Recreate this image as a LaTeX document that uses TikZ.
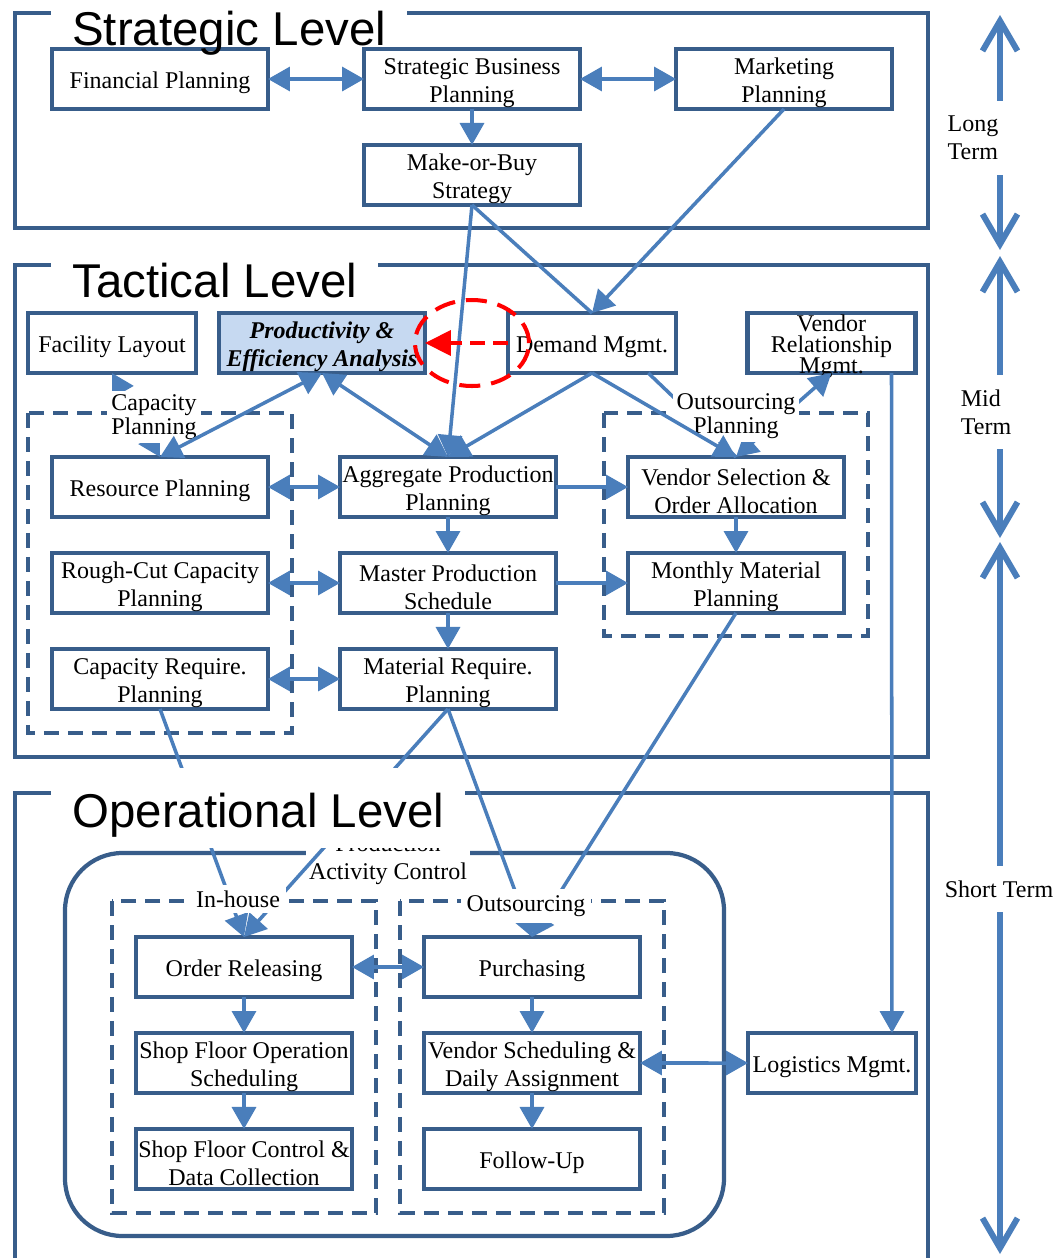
\documentclass[tikz,border=0pt]{standalone}
\usepackage{fontspec}
\setmainfont{Liberation Serif}
\newfontfamily\titlefont{Liberation Sans}
\usepackage{xcolor}
\usepackage{tikz}
\usetikzlibrary{arrows.meta, positioning, calc}

\definecolor{frameblue}{RGB}{56,93,138}
\definecolor{linkblue}{RGB}{74,126,187}
\definecolor{focusfill}{RGB}{198,217,241}
\newcommand{\bodyfont}{\fontsize{13.66pt}{15.94pt}\selectfont}
\newcommand{\tightfont}{\fontsize{13.66pt}{11.95pt}\selectfont}
\newcommand{\headfont}{\titlefont\fontsize{27pt}{30pt}\selectfont}
\newcommand{\lift}{\rule{0pt}{14pt}}

\begin{document}
\begin{tikzpicture}[
        x=0.02cm, y=-0.02cm,
        procbox/.style={
            rectangle,
            draw=frameblue,
            line width=2.8pt,
            fill=white,
            minimum width=4.32cm,
            minimum height=1.2cm,
            inner sep=0pt,
            outer sep=0pt,
            align=center,
            font=\bodyfont,
            execute at begin node={\lift}
        },
        smallbox/.style={procbox, minimum width=3.36cm},
        focusbox/.style={procbox, minimum width=4.12cm, fill=focusfill, font=\bodyfont\bfseries\itshape},
        grpbox/.style={draw=frameblue, line width=2.2pt, dash pattern=on 0.3cm off 0.18cm},
        grplbl/.style={fill=white, inner sep=0.08cm, align=center, font=\tightfont},
        sublbl/.style={fill=white, inner sep=0.12cm, font=\bodyfont},
        levelframe/.style={draw=frameblue, line width=2.8pt},
        leveltitle/.style={fill=white, anchor=base west, inner xsep=0.42cm, inner ysep=0pt, text height=0.8cm, text depth=0pt, font=\headfont},
        link/.style={draw=linkblue, line width=2pt, -{Triangle[length=0.44cm,width=0.48cm]}},
        duallink/.style={draw=linkblue, line width=2pt, {Triangle[length=0.44cm,width=0.48cm]}-{Triangle[length=0.44cm,width=0.48cm]}},
        plainlink/.style={draw=linkblue, line width=2pt},
        termarrow/.style={draw=linkblue, line width=3.4pt, {Straight Barb[length=0.6cm,width=0.7cm]}-{Straight Barb[length=0.6cm,width=0.7cm]}},
        termlbl/.style={fill=white, inner xsep=0.16cm, inner ysep=0.3cm, align=left, font=\bodyfont},
        redring/.style={draw=red, line width=2.3pt, dash pattern=on 0.42cm off 0.22cm},
        redlink/.style={draw=red, line width=2.3pt, dash pattern=on 0.3cm off 0.16cm, -{Triangle[length=0.52cm,width=0.5cm]}}
    ]
        \useasboundingbox (0,0) rectangle (1059,1258);
        \clip (0,0) rectangle (1059,1258);

        \draw[levelframe] (15,13) rectangle (928,228);
        \draw[levelframe] (15,265) rectangle (928,757);
        \draw[levelframe] (15,793) rectangle (928,1290);

        \draw[grpbox] (28,413) rectangle (292,733);
        \draw[grpbox] (604,413) rectangle (868,636);
        \draw[levelframe, line width=2.4pt, rounded corners=1.15cm] (65,853) rectangle (724,1236);
        \draw[grpbox] (112,901) rectangle (376,1213);
        \draw[grpbox] (400,901) rectangle (664,1213);
        \node[fill=white, inner sep=0.06cm, align=center, font=\bodyfont] (paclbl) at (388,860) {Production\\Activity Control};

        \node[procbox] (fin) at (160,79) {Financial Planning};
        \node[procbox] (sbp) at (472,79) {\lift Strategic Business\\Planning};
        \node[procbox] (mkt) at (784,79) {\lift Marketing\\Planning};
        \node[procbox, below=0.72cm of sbp] (mob) {\lift Make-or-Buy\\Strategy};

        \node[smallbox] (fac) at (112,343) {Facility Layout};
        \node[focusbox] (prod) at (322,343) {\lift Productivity \&\\Efficiency Analysis};
        \node[smallbox] (dem) at (592,343) {Demand Mgmt.};
        \node[smallbox, inner ysep=-0.15cm, font=\tightfont] (vrm) at (831.5,343) {\lift Vendor\\Relationship\\Mgmt.};

        \node[procbox] (res) at (160,487) {Resource Planning};
        \node[procbox, below=0.72cm of res] (rcc) {\lift Rough-Cut Capacity\\Planning};
        \node[procbox, below=0.72cm of rcc] (crp) {\lift Capacity Require.\\Planning};
        \node[procbox] (app) at (448,487) {\lift Aggregate Production\\Planning};
        \node[procbox, below=0.72cm of app] (mps) {\lift Master Production\\Schedule};
        \node[procbox, below=0.72cm of mps] (mrp) {\lift Material Require.\\Planning};
        \node[procbox] (sel) at (736,487) {\lift Vendor Selection \&\\Order Allocation};
        \node[procbox, below=0.72cm of sel] (mmp) {\lift Monthly Material\\Planning};

        \node[procbox] (ord) at (244,967) {Order Releasing};
        \node[procbox, below=0.72cm of ord] (sfo) {\lift Shop Floor Operation\\Scheduling};
        \node[procbox, below=0.72cm of sfo] (sfc) {\lift Shop Floor Control \&\\Data Collection};
        \node[procbox] (pur) at (532,967) {Purchasing};
        \node[procbox, below=0.72cm of pur] (vsd) {\lift Vendor Scheduling \&\\Daily Assignment};
        \node[procbox, below=0.72cm of vsd] (fol) {Follow-Up};
        \node[smallbox] (log) at (832,1063) {Logistics Mgmt.};

        \draw[duallink] (fin) -- (sbp);
        \draw[duallink] (sbp) -- (mkt);
        \draw[link] (sbp) -- (mob);
        \draw[link] (mkt.south) -- (dem.north);
        \draw[plainlink] (mob.south) -- (dem.north);
        \draw[link] (mob.south) -- (app.north);
        \draw[link] (dem.south) -- (app.north);
        \draw[duallink] (prod.south) -- (app.north);
        \draw[duallink] (fac.south) -- (res.north);
        \draw[duallink] (vrm.south) -- (sel.north);
        \draw[plainlink] ($(dem.south)!0.67!(dem.south east)$) -- (sel.north);
        \draw[duallink] (res) -- (app);
        \draw[duallink] (rcc) -- (mps);
        \draw[duallink] (crp) -- (mrp);
        \draw[link] (app) -- (sel);
        \draw[link] (mps) -- (mmp);
        \draw[link] (app) -- (mps);
        \draw[link] (mps) -- (mrp);
        \draw[link] (sel) -- (mmp);
        \draw[link] (crp.south) -- (ord.north);
        \draw[link] (mrp.south) -- (ord.north);
        \draw[link] (mrp.south) -- (pur.north);
        \draw[link] (mmp.south) -- (pur.north);
        \draw[link] ([xshift=-0.48cm]vrm.south east) -- ([xshift=-0.48cm]log.north east);
        \draw[duallink] (ord) -- (pur);
        \draw[link] (ord) -- (sfo);
        \draw[link] (sfo) -- (sfc);
        \draw[link] (pur) -- (vsd);
        \draw[link] (vsd) -- (fol);
        \draw[duallink] (vsd) -- (log);

        \node[grplbl] (caplbl) at (154,417) {Capacity\\Planning};
        \node[grplbl] (outlbl) at (736,416) {Outsourcing\\Planning};
        \node[sublbl] (inlbl) at (238,899) {In-house};
        \node[sublbl] (outslbl) at (526,906) {Outsourcing};

        \draw[link] (dem.south) -- (sel.north);
        \draw[duallink] (prod.south) -- (res.north);

        \node[leveltitle] (strattitle) at (51,45) {Strategic Level};
        \node[leveltitle] (tacttitle) at (51,297) {Tactical Level};
        \node[leveltitle, text height=1.18cm, text depth=0.42cm] (opertitle) at (51,827) {Operational Level};

        \coordinate (longtop) at (1000,15);
        \coordinate (longbot) at (1000,250);
        \coordinate (midtop) at (1000,256);
        \coordinate (midbot) at (1000,538);
        \coordinate (shorttop) at (1000,542);
        \coordinate (shortbot) at (1000,1254);
        \draw[termarrow] (longtop) -- (longbot);
        \draw[termarrow] (midtop) -- (midbot);
        \draw[termarrow] (shorttop) -- (shortbot);
        \node[termlbl] (longlbl) at (973,138) {Long\\Term};
        \node[termlbl] (midlbl) at (986,412) {Mid\\Term};
        \node[termlbl] (shortlbl) at (999,889) {Short Term};

        \draw[redring] (472,343) ellipse [x radius=1.14cm, y radius=0.86cm];
        \draw[redlink] (dem.west) -- (prod.east);
    \end{tikzpicture}
\end{document}
